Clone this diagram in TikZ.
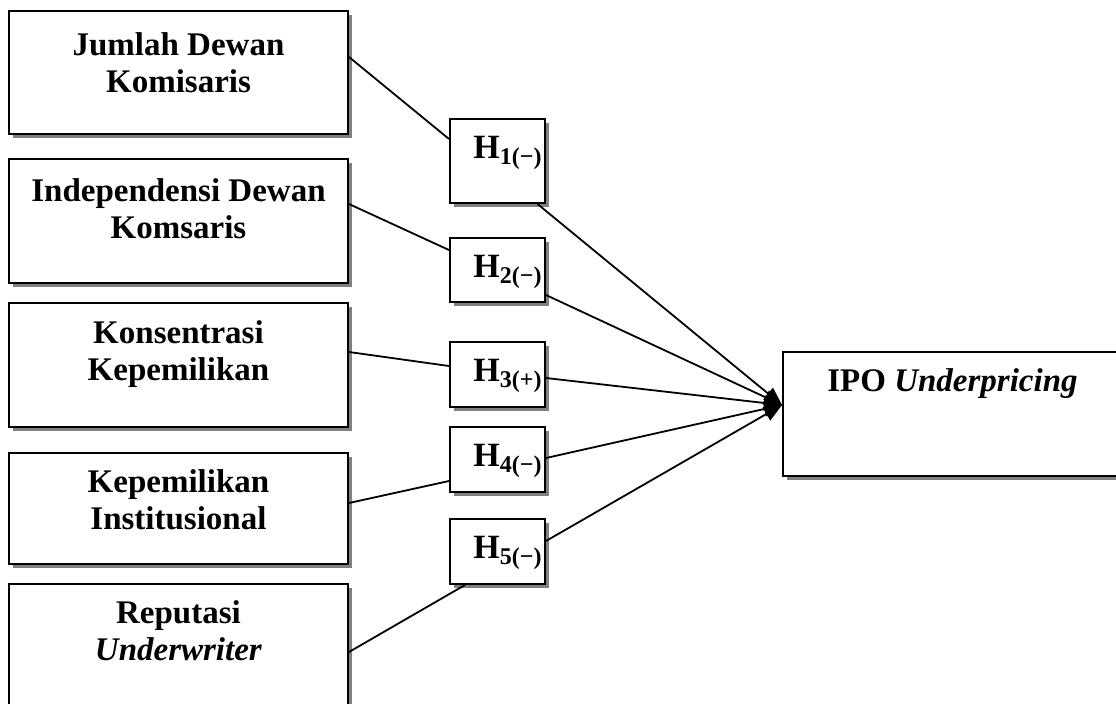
\documentclass[tikz,border=0pt]{standalone}
\usepackage{fontspec}
\setmainfont{Liberation Serif}
\usetikzlibrary{shadows,arrows.meta,calc}
\newcommand{\hsub}[1]{\raisebox{-3.4pt}{\fontsize{12}{13}\selectfont #1}}
\begin{document}
\begin{tikzpicture}[x=0.5pt,y=-0.5pt,
  box/.style={draw, line width=1pt, fill=white, rectangle, inner sep=0pt,
    drop shadow={fill=black!50, opacity=1, shadow xshift=2.2pt, shadow yshift=-2.2pt}},
  bigbox/.style={box, minimum width=169.5pt},
  hbox/.style={box, minimum width=47.5pt},
  lbl/.style={font=\fontsize{16.5}{18.5}\selectfont\bfseries, align=center, inner sep=0pt},
  hl/.style={font=\fontsize{17}{19}\selectfont\bfseries, inner sep=0pt},
  conn/.style={line width=0.9pt},
  arr/.style={conn, -{Triangle[length=9pt,width=7.5pt]}}
]
\useasboundingbox (0,0) rectangle (1116,703);

% left boxes
\node[bigbox, minimum height=61.5pt] (b1) at (178.5,72.5) {};
\node[bigbox, minimum height=62pt] (b2) at (178.5,221) {};
\node[bigbox, minimum height=62pt] (b3) at (178.5,365) {};
\node[bigbox, minimum height=55.5pt] (b4) at (178.5,508) {};
\node[bigbox, minimum height=62pt] (b5) at (178.5,646) {};

\node[lbl] (t1) at ($(b1.north)+(0,53)$) {Jumlah Dewan\\Komisaris};
\node[lbl] (t2) at ($(b2.north)+(0,51)$) {Independensi Dewan\\Komsaris};
\node[lbl] (t3) at ($(b3.north)+(0,52)$) {Konsentrasi\\Kepemilikan};
\node[lbl] (t4) at ($(b4.north)+(0,48)$) {Kepemilikan\\Institusional};
\node[lbl] (t5) at ($(b5.north)+(0,48)$) {Reputasi\\\textit{Underwriter}};

% hypothesis boxes
\node[hbox, minimum height=42pt] (h1) at (497.5,161) {};
\node[hbox, minimum height=32pt] (h2) at (497.5,270) {};
\node[hbox, minimum height=32.5pt] (h3) at (497.5,374.5) {};
\node[hbox, minimum height=32.5pt] (h4) at (497.5,459.5) {};
\node[hbox, minimum height=32.5pt] (h5) at (497.5,551.5) {};

\node[hl] (l1) at ($(h1.north)+(10,35)$) {H\hsub{1(−)}};
\node[hl] (l2) at ($(h2.north)+(10,35)$) {H\hsub{2(−)}};
\node[hl] (l3) at ($(h3.north)+(10,35)$) {H\hsub{3(+)}};
\node[hl] (l4) at ($(h4.north)+(10,35)$) {H\hsub{4(−)}};
\node[hl] (l5) at ($(h5.north)+(10,35)$) {H\hsub{5(−)}};

% dependent variable
\node[box, minimum width=169.5pt, minimum height=62pt] (ipo) at (952.5,414) {};
\node[lbl] (ti) at ($(ipo.north)+(0,33)$) {IPO \textit{Underpricing}};

\coordinate (tip) at ($(ipo.west)+(0,-9)$);

% connectors box -> hypothesis
\draw[conn] ($(b1.east)+(0,-15.5)$) -- ($(h1.west)+(0,-22)$);
\draw[conn] ($(b2.east)+(0,-17)$) -- ($(h2.west)+(0,-20)$);
\draw[conn] ($(b3.east)+(0,-13)$) -- ($(h3.west)+(0,-8.5)$);
\draw[conn] ($(b4.east)+(0,-5)$) -- ($(h4.west)+(0,21.5)$);
\draw[conn] ($(b5.east)+(0,6)$) -- ($(h5.south)+(-32.5,0)$);

% hypothesis -> IPO
\draw[arr] ($(h1.south)+(40,0)$) -- (tip);
\draw[arr] ($(h2.east)+(0,25)$) -- (tip);
\draw[arr] ($(h3.east)+(0,3.5)$) -- (tip);
\draw[arr] ($(h4.east)+(0,-1.5)$) -- (tip);
\draw[arr] ($(h5.east)+(0,-10.5)$) -- (tip);
\end{tikzpicture}
\end{document}
